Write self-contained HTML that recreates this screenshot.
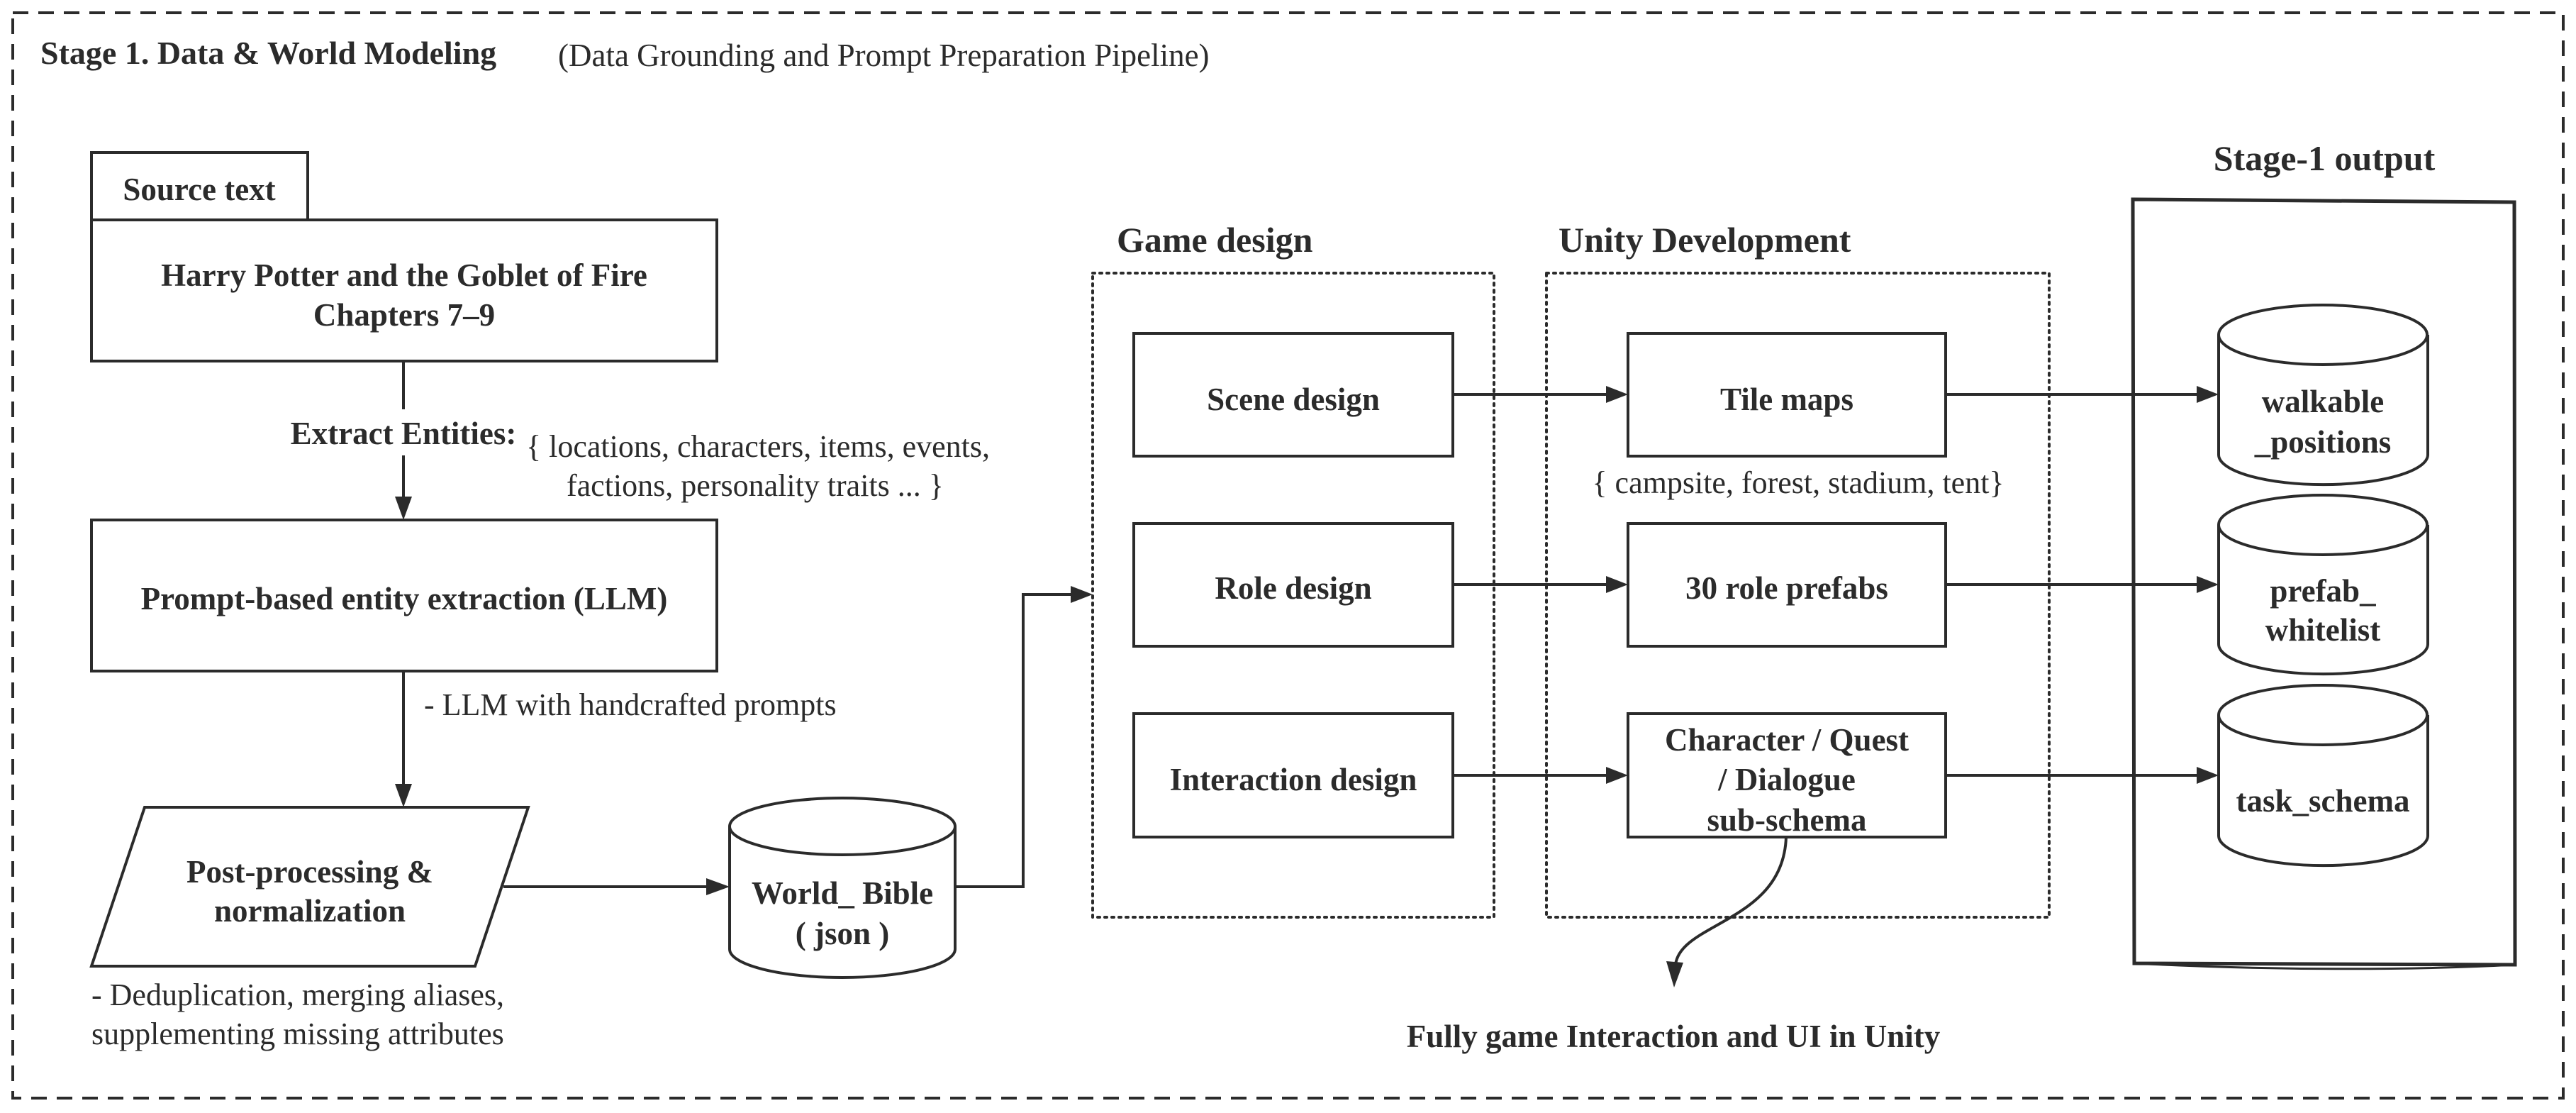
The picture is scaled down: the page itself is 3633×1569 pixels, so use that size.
<!DOCTYPE html>
<html><head><meta charset="utf-8"><style>
html,body{margin:0;padding:0;background:#fff;}
svg{display:block;}
text{font-family:"Liberation Serif",serif;fill:#2b2b2b;}
.b{font-weight:bold;}
</style></head><body>
<svg width="3633" height="1569" viewBox="0 0 3633 1569" xmlns="http://www.w3.org/2000/svg">
<g stroke="#2b2b2b" fill="none" stroke-width="4">
<rect x="18" y="18" width="3597" height="1530" stroke-dasharray="22,14" stroke-width="4"/>
<rect x="129" y="215" width="305" height="95" fill="#fff"/>
<rect x="129" y="310" width="882" height="199" fill="#fff"/>
<line x1="569" y1="509" x2="569" y2="577"/>
<line x1="569" y1="642" x2="569" y2="705"/>
<rect x="129" y="733" width="882" height="213" fill="#fff"/>
<line x1="569" y1="946" x2="569" y2="1112"/>
<polygon points="204,1138 745,1138 670,1362 129,1362" fill="#fff"/>
<line x1="710" y1="1250" x2="1002" y2="1250"/>
<path d="M1029,1165 L1029,1338 A159,40 0 0 0 1347,1338 L1347,1165" fill="#fff"/>
<ellipse cx="1188" cy="1165" rx="159" ry="40" fill="#fff"/>
<polyline points="1347,1250 1443,1250 1443,838 1515,838"/>
<rect x="1541" y="385" width="566" height="908" stroke-dasharray="3,7" stroke-width="4" stroke-linecap="round"/>
<rect x="2181" y="385" width="709" height="908" stroke-dasharray="3,7" stroke-width="4" stroke-linecap="round"/>
<rect x="1599" y="470" width="450" height="173" fill="#fff"/>
<rect x="1599" y="738" width="450" height="173" fill="#fff"/>
<rect x="1599" y="1006" width="450" height="174" fill="#fff"/>
<rect x="2296" y="470" width="448" height="173" fill="#fff"/>
<rect x="2296" y="738" width="448" height="173" fill="#fff"/>
<rect x="2296" y="1006" width="448" height="174" fill="#fff"/>
<line x1="2049" y1="556" x2="2270" y2="556"/>
<line x1="2049" y1="824" x2="2270" y2="824"/>
<line x1="2049" y1="1093" x2="2270" y2="1093"/>
<line x1="2744" y1="556" x2="3103" y2="556"/>
<line x1="2744" y1="824" x2="3103" y2="824"/>
<line x1="2744" y1="1093" x2="3103" y2="1093"/>
<path d="M3008,281 L3546,285 L3547,1360 L3010,1358 Z" stroke-width="5"/>
<path d="M3010,1358 C3200,1368 3400,1368 3547,1360" stroke-width="3"/>
<path d="M3129,472 L3129,641 A147,42 0 0 0 3424,641 L3424,472" fill="#fff"/>
<ellipse cx="3276" cy="472" rx="147" ry="42" fill="#fff"/>
<path d="M3129,740 L3129,908 A147,42 0 0 0 3424,908 L3424,740" fill="#fff"/>
<ellipse cx="3276" cy="740" rx="147" ry="42" fill="#fff"/>
<path d="M3129,1008 L3129,1178 A147,42 0 0 0 3424,1178 L3424,1008" fill="#fff"/>
<ellipse cx="3276" cy="1008" rx="147" ry="42" fill="#fff"/>
<path d="M2519,1180 C2515,1300 2370,1300 2363,1360"/>
</g>
<g fill="#2b2b2b">
<polygon points="557,700 581,700 569,733"/>
<polygon points="557,1105 581,1105 569,1138"/>
<polygon points="996,1238 996,1262 1029,1250"/>
<polygon points="1510,826 1510,850 1541,838"/>
<polygon points="2265,544 2265,568 2296,556"/>
<polygon points="2265,812 2265,836 2296,824"/>
<polygon points="2265,1081 2265,1105 2296,1093"/>
<polygon points="3098,544 3098,568 3129,556"/>
<polygon points="3098,812 3098,836 3129,824"/>
<polygon points="3098,1081 3098,1105 3129,1093"/>
<polygon points="2350,1355 2374,1357 2361,1392"/>
</g>
<text x="57" y="90" class="b" font-size="46">Stage 1. Data &amp; World Modeling</text>
<text x="787" y="93" font-size="45">(Data Grounding and Prompt Preparation Pipeline)</text>
<g class="b" font-size="45" text-anchor="middle">
<text x="281" y="282">Source text</text>
<text x="570" y="403">Harry Potter and the Goblet of Fire</text>
<text x="570" y="459">Chapters 7–9</text>
<text x="569" y="626">Extract Entities:</text>
<text x="570" y="859">Prompt-based entity extraction (LLM)</text>
<text x="437" y="1244">Post-processing &amp;</text>
<text x="437" y="1299">normalization</text>
<text x="1188" y="1274">World_ Bible</text>
<text x="1188" y="1331">( json )</text>
<text x="1824" y="578">Scene design</text>
<text x="1824" y="844">Role design</text>
<text x="1824" y="1114">Interaction design</text>
<text x="2520" y="578">Tile maps</text>
<text x="2520" y="844">30 role prefabs</text>
<text x="2520" y="1058">Character / Quest</text>
<text x="2520" y="1114">/ Dialogue</text>
<text x="2520" y="1171">sub-schema</text>
<text x="3276" y="581">walkable</text>
<text x="3276" y="638">_positions</text>
<text x="3276" y="848">prefab_</text>
<text x="3276" y="903">whitelist</text>
<text x="3276" y="1144">task_schema</text>
<text x="2360" y="1476">Fully game Interaction and UI in Unity</text>
<text x="3278" y="240" font-size="50">Stage-1 output</text>
</g>
<g class="b" font-size="50">
<text x="1575" y="355">Game design</text>
<text x="2198" y="355">Unity Development</text>
</g>
<g font-size="44">
<text x="742" y="644">{ locations, characters, items, events,</text>
<text x="799" y="699">factions, personality traits ... }</text>
<text x="598" y="1008">- LLM with handcrafted prompts</text>
<text x="129" y="1417">- Deduplication, merging aliases,</text>
<text x="129" y="1472">supplementing missing attributes</text>
<text x="2536" y="695" text-anchor="middle">{ campsite, forest, stadium, tent}</text>
</g>
</svg>
</body></html>
